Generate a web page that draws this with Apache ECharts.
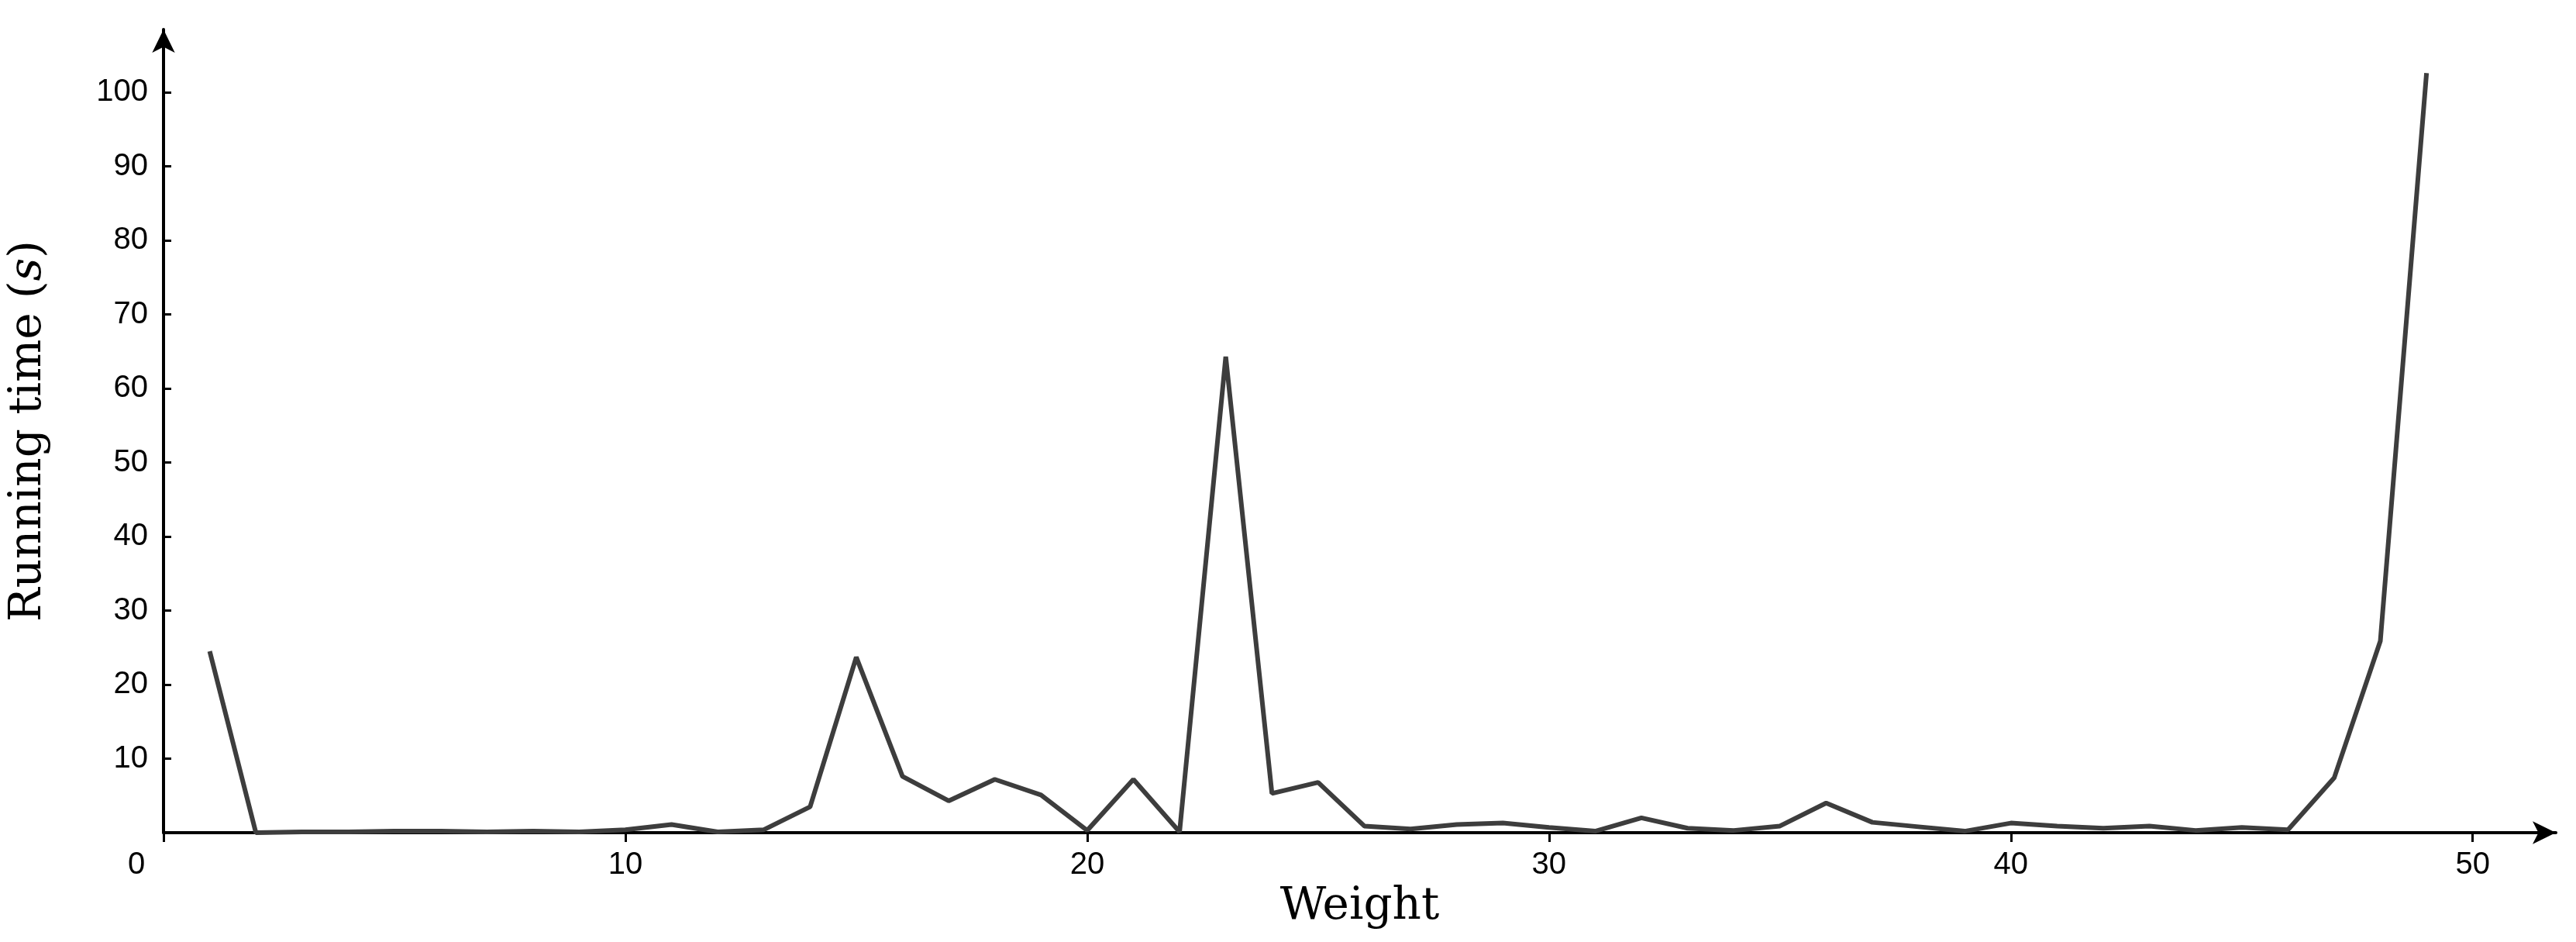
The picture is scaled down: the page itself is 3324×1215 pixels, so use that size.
<!DOCTYPE html>
<html>
<head>
<meta charset="utf-8">
<script src="https://cdn.jsdelivr.net/npm/echarts@6/dist/echarts.min.js"></script>
<style>html,body{margin:0;padding:0;background:#fff}#main{width:3324px;height:1215px}</style>
</head>
<body>
<div id="main"></div>
<script>
// 数据：权重与运行时间
var weights = [];
for (var w = 1; w <= 49; w++) weights.push(w);
var runTimes = [24.5, 0, 0.1, 0.1, 0.2, 0.2, 0.1, 0.2, 0.1, 0.4,
  1.1, 0.1, 0.4, 3.5, 23.7, 7.6, 4.3, 7.2, 5.1, 0.3,
  7.2, 0.1, 64.3, 5.3, 6.8, 0.9, 0.5, 1.1, 1.3, 0.7,
  0.2, 2.0, 0.6, 0.3, 0.9, 4.0, 1.4, 0.8, 0.2, 1.3,
  0.9, 0.6, 0.9, 0.3, 0.7, 0.4, 7.4, 25.9, 102.6];

var points = [];
for (var i = 0; i < weights.length; i++) points.push([weights[i], runTimes[i]]);

var myChart = echarts.init(document.getElementById('main'));
var option = {
  animation: false,
  grid: { left: 210, right: 26, top: 38, bottom: 141 },
  xAxis: {
    type: 'value', min: 0, max: 51.8, interval: 10,
    name: 'Weight', nameLocation: 'middle', nameGap: 62,
    nameTextStyle: { fontFamily: 'DejaVu Serif', fontSize: 58, color: '#000' },
    axisLine: { lineStyle: { color: '#000', width: 4 }, symbol: ['none', 'arrow'], symbolSize: [22, 30] },
    axisTick: { inside: false, length: 12, lineStyle: { color: '#000', width: 3 } },
    axisLabel: { fontFamily: 'Liberation Sans', fontSize: 40, color: '#000', margin: 22,
      showMaxLabel: false,
      formatter: function (v) { return v === 0 ? '{z|0}' : v; },
      rich: { z: { fontFamily: 'Liberation Sans', fontSize: 40, padding: [0, 70, 0, 0] } } },
    splitLine: { show: false }
  },
  yAxis: {
    type: 'value', min: 0, max: 108.5, interval: 10,
    name: 'Running time ({i|s})', nameLocation: 'middle', nameGap: 145, nameRotate: 90,
    nameTextStyle: { fontFamily: 'DejaVu Serif', fontSize: 58, color: '#000',
      rich: { i: { fontFamily: 'DejaVu Serif', fontStyle: 'italic', fontSize: 58 } } },
    axisLine: { lineStyle: { color: '#000', width: 4 }, symbol: ['none', 'arrow'], symbolSize: [22, 30] },
    axisTick: { inside: true, length: 10, lineStyle: { color: '#000', width: 3 } },
    axisLabel: { fontFamily: 'Liberation Sans', fontSize: 40, color: '#000', margin: 20,
      showMaxLabel: false,
      formatter: function (v) { return v === 0 ? '' : v; } },
    splitLine: { show: false }
  },
  series: [{
    type: 'line', data: points, showSymbol: false,
    lineStyle: { color: '#3d3d3d', width: 6 }
  }]
};
myChart.setOption(option);
</script>
</body>
</html>
